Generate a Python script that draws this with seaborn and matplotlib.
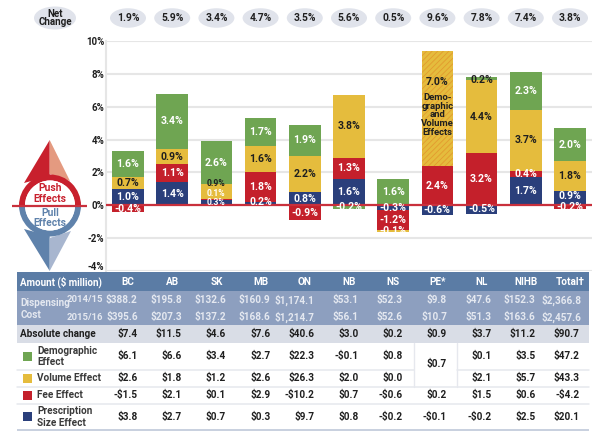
import matplotlib
matplotlib.use("Agg")
import matplotlib.pyplot as plt
from matplotlib.patches import Ellipse, Polygon, Rectangle, Wedge
from matplotlib.transforms import ScaledTranslation
import numpy as np
import seaborn as sns

# Chart data
provinces = ["BC", "AB", "SK", "MB", "ON", "NB", "NS", "PE*", "NL", "NIHB", "Total†"]
net_change = ["1.9%", "5.9%", "3.4%", "4.7%", "3.5%", "5.6%", "0.5%", "9.6%", "7.8%", "7.4%", "3.8%"]
prescription = [1.0, 1.4, 0.3, 0.2, 0.8, 1.6, -0.3, -0.6, -0.5, 1.7, 0.9]
fee = [-0.4, 1.1, 0.1, 1.8, -0.9, 1.3, -1.2, 2.4, 3.2, 0.4, -0.2]
volume = [0.7, 0.9, 0.9, 1.6, 2.2, 3.8, -0.1, 0.0, 4.4, 3.7, 1.8]
demo_volume = [0, 0, 0, 0, 0, 0, 0, 7.0, 0, 0, 0]
demographic = [1.6, 3.4, 2.6, 1.7, 1.9, -0.2, 1.6, 0.0, 0.2, 2.3, 2.0]
y_ticks = [10, 8, 6, 4, 2, 0, -2, -4]

# Table data
cost_1415 = ["$388.2", "$195.8", "$132.6", "$160.9", "$1,174.1", "$53.1", "$52.3", "$9.8", "$47.6", "$152.3", "$2,366.8"]
cost_1516 = ["$395.6", "$207.3", "$137.2", "$168.6", "$1,214.7", "$56.1", "$52.6", "$10.7", "$51.3", "$163.6", "$2,457.6"]
abs_change = ["$7.4", "$11.5", "$4.6", "$7.6", "$40.6", "$3.0", "$0.2", "$0.9", "$3.7", "$11.2", "$90.7"]
demo_amt = ["$6.1", "$6.6", "$3.4", "$2.7", "$22.3", "-$0.1", "$0.8", "", "$0.1", "$3.5", "$47.2"]
vol_amt = ["$2.6", "$1.8", "$1.2", "$2.6", "$26.3", "$2.0", "$0.0", "", "$2.1", "$5.7", "$43.3"]
fee_amt = ["-$1.5", "$2.1", "$0.1", "$2.9", "-$10.2", "$0.7", "-$0.6", "$0.2", "$1.5", "$0.6", "-$4.2"]
size_amt = ["$3.8", "$2.7", "$0.7", "$0.3", "$9.7", "$0.8", "-$0.2", "-$0.1", "-$0.2", "$2.5", "$20.1"]

GREEN = "#6FA552"
YELLOW = "#E5BC3D"
RED = "#C4202B"
NAVY = "#2A3F7B"
STEEL = "#5B7CA5"
INK = "#1F1F1F"

sns.set_theme(style="white")
plt.rcParams["font.family"] = ["Roboto", "DejaVu Sans"]
plt.rcParams["font.weight"] = "bold"
plt.rcParams["hatch.linewidth"] = 0.6

W, H = 600, 434
fig = plt.figure(figsize=(W / 100, H / 100), dpi=100, facecolor="white")

# Bar axes: 10% at y=41, -4% at y=271
ax = fig.add_axes([105.5 / W, 1 - 271 / H, (592 - 105.5) / W, (271 - 41) / H])
ax.set_facecolor("white")

# nudges for labels on thin segments, in percent units
nudge = {("prescription", 2): 0.02, ("fee", 2): 0.36, ("volume", 2): 0.5,
         ("prescription", 3): 0.13, ("demographic", 8): -0.1, ("prescription", 10): 0.1}
small = {("prescription", 2), ("fee", 2), ("volume", 2)}

pos_base = np.zeros(len(provinces))
neg_base = np.zeros(len(provinces))
series = [
    ("prescription", prescription, NAVY, "white", None),
    ("fee", fee, RED, "white", None),
    ("volume", volume, YELLOW, INK, None),
    ("demo_volume", demo_volume, YELLOW, INK, "//////"),
    ("demographic", demographic, GREEN, "white", None),
]
for name, values, color, txt, hatch in series:
    vals = np.array(values, dtype=float)
    bottoms = np.where(vals >= 0, pos_base, neg_base)
    kw = {"hatch": hatch, "edgecolor": "#E39A2E", "linewidth": 0} if hatch else {"edgecolor": color, "linewidth": 0}
    sns.barplot(x=provinces, y=vals, bottom=bottoms, color=color, saturation=1, width=0.715,
                order=provinces, ax=ax, zorder=2, **kw)
    for i, v in enumerate(vals):
        if v == 0 or hatch:
            continue
        c = "white" if v < 0 else txt
        if name == "demographic" and i == 8:
            c = INK
        ax.text(i, bottoms[i] + v / 2 + nudge.get((name, i), 0), f"{v:.1f}%", ha="center", va="center",
                fontsize=6.2 if (name, i) in small else 7.6, color=c, zorder=4)
    pos_base += np.where(vals > 0, vals, 0)
    neg_base += np.where(vals < 0, vals, 0)

ax.text(7, 7.5, "7.0%", ha="center", va="center", fontsize=7.6, color=INK, zorder=4)
ax.text(7, 5.5, "Demo-\ngraphic\nand\nVolume\nEffects", ha="center", va="center", fontsize=6.8,
        color=INK, linespacing=0.95, zorder=4)

ax.set_xlim(-0.51, 10.5)
ax.set_ylim(-4, 10)
ax.set_yticks(y_ticks)
ax.set_yticklabels([f"{t}%" for t in y_ticks], fontsize=7, color=INK)
ax.set_xticks([])
ax.set_xlabel("")
ax.tick_params(axis="y", length=0, pad=1)
ax.yaxis.grid(True, color="#E6E6E6", linewidth=1.5, zorder=0)
ax.set_axisbelow(True)
for s in ["top", "right", "bottom"]:
    ax.spines[s].set_visible(False)
ax.spines["left"].set_color("#E6E6E6")
ax.spines["left"].set_linewidth(1.5)
last_tick = ax.yaxis.get_ticklabels()[-1]
last_tick.set_transform(last_tick.get_transform() + ScaledTranslation(0, 5 / 100, fig.dpi_scale_trans))
ax.axhline(0, color="#C9303C", linewidth=1.6, zorder=3)

# Overlay in pixel coordinates for the icon, pills and table
ov = fig.add_axes([0, 0, 1, 1], zorder=5)
ov.set_xlim(0, W)
ov.set_ylim(H, 0)
ov.axis("off")
ov.patch.set_alpha(0)

col_x = [128 + 44.2 * i for i in range(len(provinces))]

# Net change pills
ov.add_patch(Ellipse((55, 18), 42, 23, color="#E0E3EB", lw=0))
ov.text(55, 18, "Net\nChange", ha="center", va="center", fontsize=7, color=INK, linespacing=0.85)
for x, t in zip(col_x, net_change):
    ov.add_patch(Ellipse((x, 18), 36, 19.5, color="#E0E3EB", lw=0))
    ov.text(x, 18, t, ha="center", va="center", fontsize=7.4, color=INK)

# Push / pull icon
ICON_RED = "#C8202D"
ICON_BLUE = "#5F82AB"
ov.add_patch(Polygon([(49.7, 140), (24, 183), (49.7, 176)], color=ICON_RED, lw=0))
ov.add_patch(Polygon([(49.7, 140), (70, 181), (49.7, 174)], color="#E49A80", lw=0))
ov.add_patch(Polygon([(49.7, 271), (24, 229), (49.7, 236)], color=ICON_BLUE, lw=0))
ov.add_patch(Polygon([(49.7, 271), (71, 231), (49.7, 238)], color="#A8B6CF", lw=0))
ov.add_patch(Wedge((50, 205.5), 31, 180, 360, width=6, color=ICON_RED, lw=0))
ov.add_patch(Wedge((50, 205.5), 31, 0, 180, width=6, color=ICON_BLUE, lw=0))
ov.add_patch(Ellipse((50, 205.5), 50, 50, color="white", lw=0))
ov.plot([12, 87], [205.5, 205.5], color="#C9303C", lw=1.6, solid_capstyle="butt")
ov.text(50, 188, "Push", ha="center", va="center", fontsize=7.4, color=ICON_RED)
ov.text(50, 198.5, "Effects", ha="center", va="center", fontsize=7.4, color=ICON_RED)
ov.text(50, 213, "Pull", ha="center", va="center", fontsize=7.4, color=ICON_BLUE)
ov.text(50, 222.5, "Effects", ha="center", va="center", fontsize=7.4, color=ICON_BLUE)

# Table bands
ov.add_patch(Rectangle((17, 271.5), 572, 19.5, color=STEEL, lw=0))
ov.add_patch(Rectangle((17, 291), 572, 34, color="#8D9FBF", lw=0))
ov.add_patch(Rectangle((17, 325), 572, 17.5, color="#D9DDE6", lw=0))
ov.add_patch(Rectangle((17, 429), 572, 2, color="#C9D1DF", lw=0))
for y, x0, x1 in [(370, 17, 413.5), (370, 457, 589), (386.5, 17, 589), (403.5, 17, 589)]:
    ov.plot([x0, x1], [y, y], color="#E6E8EE", lw=1.1)
ov.plot([413.5, 413.5], [342.5, 386.5], color="#E6E8EE", lw=1)
ov.plot([457, 457], [342.5, 386.5], color="#E6E8EE", lw=1)

# Table text
fs = 7.2
ov.text(20.5, 281.7, "Amount ($ million)", ha="left", va="center", fontsize=7, color="white")
ov.text(20.5, 302.7, "Dispensing", ha="left", va="center", fontsize=fs, color="#E4E8F0")
ov.text(20.5, 315, "Cost", ha="left", va="center", fontsize=fs, color="#E4E8F0")
ov.text(103, 300, "2014/15", ha="right", va="center", fontsize=6.8, color="#E4E8F0")
ov.text(103, 317.3, "2015/16", ha="right", va="center", fontsize=6.8, color="#E4E8F0")
ov.text(20.5, 334, "Absolute change", ha="left", va="center", fontsize=fs, color=INK)
row_labels = [("Demographic", 350.7), ("Effect", 362.3), ("Volume Effect", 378.3), ("Fee Effect", 394.7),
              ("Prescription", 411), ("Size Effect", 423)]
for t, y in row_labels:
    ov.text(37, y, t, ha="left", va="center", fontsize=fs, color="#3A3A3A")
for y, c in [(352, GREEN), (373.7, YELLOW), (390.7, RED), (411.7, NAVY)]:
    ov.add_patch(Rectangle((23.3, y), 9, 9, color=c, lw=0))

for i, x in enumerate(col_x):
    ov.text(x, 281.7, provinces[i], ha="center", va="center", fontsize=fs, color="white")
    right = x + 9.7
    cost_right = x + (11 if i == 10 else 9.7)
    ov.text(cost_right, 300, cost_1415[i], ha="right", va="center", fontsize=fs, color="#E4E8F0")
    ov.text(cost_right, 317.3, cost_1516[i], ha="right", va="center", fontsize=fs, color="#E4E8F0")
    ov.text(right, 334, abs_change[i], ha="right", va="center", fontsize=fs, color=INK)
    for vals, y in [(demo_amt, 356), (vol_amt, 378.3), (fee_amt, 394.7), (size_amt, 417)]:
        if vals[i]:
            ov.text(right, y, vals[i], ha="right", va="center", fontsize=fs, color=INK)
ov.text(col_x[7] + 9.7, 364, "$0.7", ha="right", va="center", fontsize=fs, color=INK)

fig.savefig("out.png", dpi=100)
